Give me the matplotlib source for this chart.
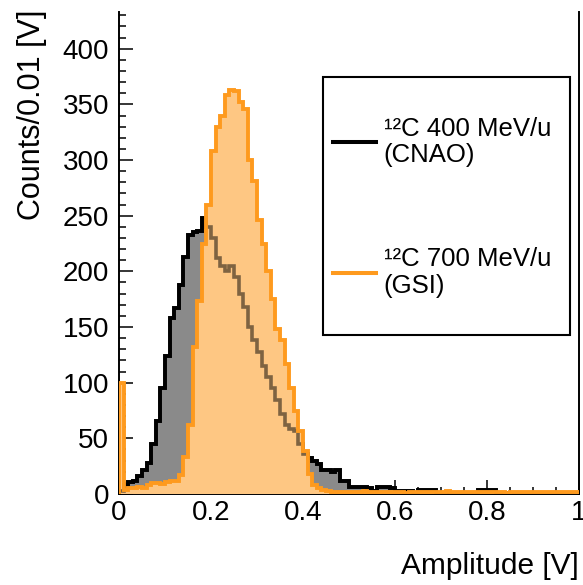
import numpy as np
import matplotlib
matplotlib.use("Agg")
import matplotlib.pyplot as plt
from matplotlib.lines import Line2D
from matplotlib.patches import Rectangle
from matplotlib.ticker import MultipleLocator, FuncFormatter

plt.rcParams['font.family'] = ['Liberation Sans', 'DejaVu Sans']

# ---- data: counts per 0.01 V bin, 0.00 .. 1.00 V ----
bin_low = 0.0
bin_high = 1.0
n_bins = 100

cnao_counts = [
    3, 8, 11, 12, 16, 22, 28, 45, 66, 95,
    124, 158, 167, 188, 213, 233, 235, 236, 248, 240,
    230, 212, 205, 200, 205, 195, 180, 168, 150, 138,
    128, 115, 105, 95, 84, 72, 62, 58, 57, 45,
    36, 32, 30, 27, 22, 22, 20, 22, 12, 12,
    6, 6, 6, 6, 5, 3, 6, 6, 6, 5,
    3, 3, 3, 3, 1, 4, 4, 4, 4, 1,
    1, 0, 1, 1, 0, 1, 0, 1, 4, 4,
    4, 4, 1, 0, 1, 0, 0, 1, 0, 0,
    1, 0, 0, 0, 1, 0, 0, 0, 0, 0,
]

gsi_counts = [
    100, 4, 5, 5, 6, 5, 8, 10, 10, 9,
    11, 12, 12, 17, 33, 62, 132, 173, 225, 260,
    308, 330, 340, 358, 363, 362, 352, 346, 300, 281,
    246, 225, 200, 175, 148, 138, 117, 95, 75, 57,
    39, 18, 8, 5, 4, 3, 2, 2, 2, 2,
    2, 2, 2, 3, 2, 2, 2, 2, 2, 2,
    2, 2, 1, 2, 2, 2, 2, 2, 2, 2,
    2, 3, 2, 2, 2, 2, 2, 2, 2, 2,
    2, 2, 2, 2, 1, 2, 2, 2, 2, 2,
    2, 2, 2, 2, 2, 2, 2, 2, 2, 2,
]

labels = ['\u00b9\u00b2C 400 MeV/u\n(CNAO)', '\u00b9\u00b2C 700 MeV/u\n(GSI)']
x_title = 'Amplitude [V]'
y_title = 'Counts/0.01 [V]'

black = '#000000'
orange = '#fe9a1e'
black_fill = '#8a8a8a'      # black/white pattern fill, averaged
orange_fill = '#fec783'     # orange/white pattern fill, averaged

edges = np.linspace(bin_low, bin_high, n_bins + 1)

W, H = 583, 585
fig = plt.figure(figsize=(W / 100, H / 100), dpi=100)
AX_L, AX_B, AX_W, AX_H = 119, 91, 460, 482
ax = fig.add_axes([AX_L / W, AX_B / H, AX_W / W, AX_H / H])
ax.set_axisbelow(True)

# CNAO
ax.stairs(cnao_counts, edges, fill=True, color=black_fill, lw=0, zorder=1)
ax.stairs(cnao_counts, edges, color=black, lw=2.8, zorder=2)

# GSI
ax.stairs(gsi_counts, edges, fill=True, color=orange_fill, lw=0, zorder=3)
# CNAO outline seen through the GSI pattern fill
ax.stairs(cnao_counts, edges, color=black, lw=2.6, alpha=0.5, zorder=3.5)
ax.stairs(gsi_counts, edges, color=orange, lw=2.8, zorder=4)

ax.set_xlim(0, 1)
ax.set_ylim(0, 433)

ax.xaxis.set_major_locator(MultipleLocator(0.2))
ax.xaxis.set_minor_locator(MultipleLocator(0.05))
ax.yaxis.set_major_locator(MultipleLocator(50))
ax.yaxis.set_minor_locator(MultipleLocator(10))
ax.xaxis.set_major_formatter(FuncFormatter(lambda v, p: f'{v:g}'))

ax.tick_params(which='both', direction='in', top=False, right=False, width=1.1)
ax.tick_params(which='major', length=10, labelsize=20)
ax.tick_params(axis='x', which='major', pad=4)
ax.tick_params(axis='y', which='major', pad=7)
ax.tick_params(which='minor', length=5)

for s in ['left', 'bottom', 'right']:
    ax.spines[s].set_linewidth(1.4)
ax.spines['top'].set_visible(False)

ax.set_xlabel(x_title, fontsize=21.5, loc='right')
ax.xaxis.set_label_coords(1.0, -0.12)
ax.set_ylabel(y_title, fontsize=22, loc='top')
ax.yaxis.set_label_coords(-0.156, 1.005)

# legend box
frame = Rectangle((0.4435, 0.330), 0.980 - 0.4435, 0.865 - 0.330, transform=ax.transAxes,
                  facecolor='white', edgecolor='black', lw=1.5, zorder=5)
ax.add_patch(frame)
handles = [Line2D([], [], color=black, lw=2.9), Line2D([], [], color=orange, lw=2.9)]
leg = ax.legend(handles, labels, loc='upper left', bbox_to_anchor=(0.465, 0.7825),
                bbox_transform=ax.transAxes, frameon=False, borderpad=0, borderaxespad=0,
                handlelength=1.67, handletextpad=0.3, labelspacing=3.12, fontsize=18.5)
leg.set_zorder(6)
for t in leg.get_texts():
    t.set_linespacing(1.12)

fig.savefig('out.png', dpi=100)
